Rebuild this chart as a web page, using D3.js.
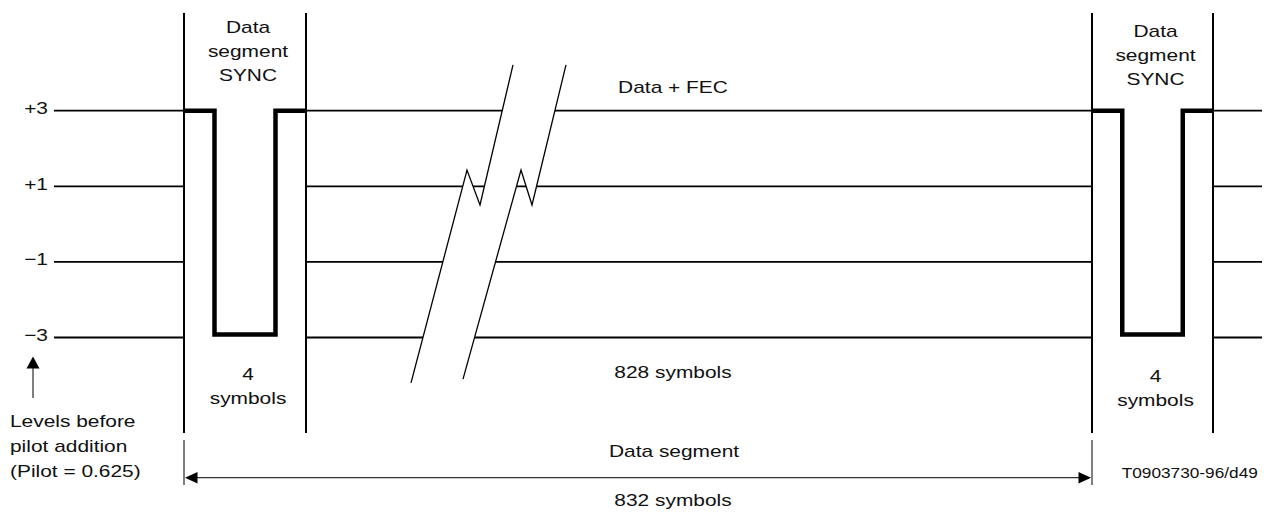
<!DOCTYPE html>
<html>
<head>
<meta charset="utf-8">
<script src="https://cdn.jsdelivr.net/npm/d3@7"></script>
<style>
  html, body { margin: 0; padding: 0; background: #fff; }
  svg { display: block; }
  text { font-family: "Liberation Sans", Arial, sans-serif; fill: #111; }
</style>
</head>
<body>
<svg id="chart" width="1270" height="516"></svg>
<script>
// ---------------- data ----------------
const levels = [3, 1, -1, -3];
const levelLabels = ["+3", "+1", "\u22121", "\u22123"];
const syncSymbols = [3, -3, -3, 3];          // 4-symbol data segment sync
const syncTitle = ["Data", "segment", "SYNC"];
const syncCount = ["4", "symbols"];
const dataLabel = "Data + FEC";
const dataCount = "828 symbols";
const segmentLabel = "Data segment";
const segmentCount = "832 symbols";
const pilotNote = ["Levels before", "pilot addition", "(Pilot = 0.625)"];
const figureId = "T0903730-96/d49";

// ---------------- layout ----------------
const W = 1270, H = 516;
const svg = d3.select("#chart");
const y = d3.scaleLinear().domain([-3, 3]).range([337.5, 110.7]);
const lineX0 = 54, lineX1 = 1262;
const boxes = [
  { x0: 184, x1: 306, textDy: 0 },
  { x0: 1092, x1: 1213, textDy: 4 }
];
const boxTop = 13, boxBottom = 433;
const SX = 1.23;            // horizontal stretch of the lettering
const FS = 17;

function label(g, x, yy, str, opts = {}) {
  const sx = opts.sx || SX;
  return g.append("text")
    .attr("transform", `translate(${x},${yy}) scale(${sx},1)`)
    .attr("text-anchor", opts.anchor || "middle")
    .attr("font-size", opts.size || FS)
    .text(str);
}

// horizontal level lines (split around the boxes)
const segs = [[lineX0, boxes[0].x0], [boxes[0].x1, boxes[1].x0], [boxes[1].x1, lineX1]];
const gLines = svg.append("g");
levels.forEach(l => {
  segs.forEach(([a, b]) => {
    gLines.append("line")
      .attr("x1", a).attr("x2", b)
      .attr("y1", y(l)).attr("y2", y(l))
      .attr("stroke", "#000").attr("stroke-width", 1.8);
  });
});

// level labels
levels.forEach((l, i) => {
  label(svg, 48, y(l) + 3.5, levelLabels[i], { anchor: "end" });
});

// break mark (in level units for y)
const lv = v => y(v);
const breakL = [[513, lv(4.21)], [480, lv(0.505)], [467, lv(1.43)], [411, lv(-4.2)]];
const breakR = [[566, lv(4.21)], [532, lv(0.505)], [521, lv(1.43)], [463, lv(-4.1)]];
svg.append("path")
  .attr("d", d3.line()(breakL.concat(breakR.slice().reverse())) + "Z")
  .attr("fill", "#fff").attr("stroke", "none");
[breakL, breakR].forEach(p => {
  svg.append("path").attr("d", d3.line()(p))
    .attr("fill", "none").attr("stroke", "#000").attr("stroke-width", 1.3);
});

// sync boxes
boxes.forEach(b => {
  [b.x0, b.x1].forEach(x => {
    svg.append("line").attr("x1", x).attr("x2", x)
      .attr("y1", boxTop).attr("y2", boxBottom)
      .attr("stroke", "#000").attr("stroke-width", 2);
  });
  const xs = d3.scaleLinear().domain([0, syncSymbols.length]).range([b.x0, b.x1]);
  const pts = syncSymbols.map((v, i) => [xs(i), v]);
  pts.push([xs(syncSymbols.length), syncSymbols[syncSymbols.length - 1]]);
  const line = d3.line()
    .x(d => d[0])
    .y(d => d[1] < 0 ? y(d[1]) - 3 : y(d[1]))
    .curve(d3.curveStepAfter);
  svg.append("path").attr("d", line(pts))
    .attr("fill", "none").attr("stroke", "#000")
    .attr("stroke-width", 4.5).attr("stroke-linejoin", "miter");

  const cx = (b.x0 + b.x1) / 2 + 3;
  syncTitle.forEach((t, i) => label(svg, cx, 32.5 + i * 24.3 + b.textDy, t));
  label(svg, cx, 380 + b.textDy / 2, syncCount[0]);
  label(svg, cx, 404 + b.textDy / 2, syncCount[1]);
});

// central labels
const midX = 673;
label(svg, midX, 92.5, dataLabel);
label(svg, midX, 378, dataCount);

// pilot note + arrow
pilotNote.forEach((t, i) => label(svg, 10, 427.3 + i * 24.7, t, { anchor: "start" }));
svg.append("line").attr("x1", 33).attr("x2", 33).attr("y1", 398).attr("y2", 366)
  .attr("stroke", "#000").attr("stroke-width", 1);
svg.append("path").attr("d", d3.line()([[33, 356.5], [26.5, 368.5], [39.5, 368.5]]) + "Z")
  .attr("fill", "#000");

// dimension line
const dimY = 477.7;
const dx0 = boxes[0].x0, dx1 = boxes[1].x0;
[dx0, dx1].forEach(x => {
  svg.append("line").attr("x1", x).attr("x2", x).attr("y1", 440).attr("y2", 485)
    .attr("stroke", "#000").attr("stroke-width", 1);
});
svg.append("line").attr("x1", dx0 + 10).attr("x2", dx1 - 10).attr("y1", dimY).attr("y2", dimY)
  .attr("stroke", "#333").attr("stroke-width", 1.2);
svg.append("path").attr("d", d3.line()([[dx0 + 1, dimY], [dx0 + 13.5, dimY - 5.8], [dx0 + 13.5, dimY + 5.8]]) + "Z")
  .attr("fill", "#000");
svg.append("path").attr("d", d3.line()([[dx1 - 1, dimY], [dx1 - 13.5, dimY - 5.8], [dx1 - 13.5, dimY + 5.8]]) + "Z")
  .attr("fill", "#000");
label(svg, midX + 1, 457.3, segmentLabel);
label(svg, midX, 506, segmentCount);

// figure id
label(svg, 1121.7, 477.5, figureId, { anchor: "start", size: 15, sx: 1.15 });
</script>
</body>
</html>
